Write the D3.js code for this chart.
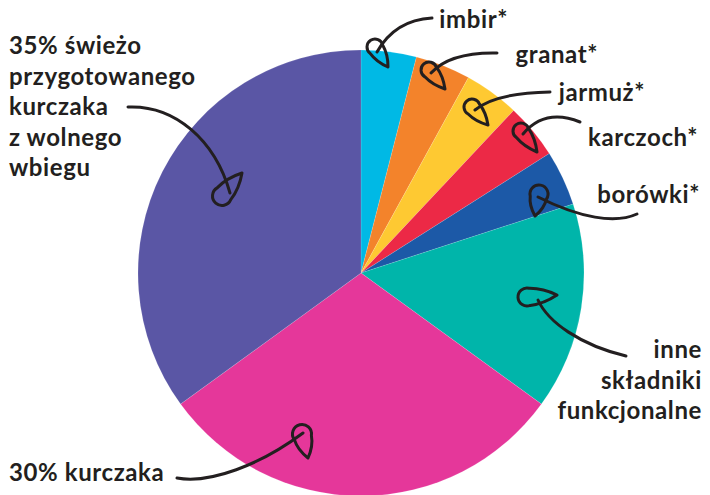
<!DOCTYPE html>
<html><head><meta charset="utf-8">
<script src="https://cdn.jsdelivr.net/npm/d3@7"></script>
<style>
html,body{margin:0;padding:0;background:#fff;}
svg{display:block;}
text{font-family:Lato,"Noto Sans",sans-serif;font-weight:700;fill:#231f20;}
</style></head>
<body>
<svg id="chart" width="710" height="495"></svg>
<script>
// ---- data ----
const categories = ["imbir*","granat*","jarmuż*","karczoch*","borówki*","inne składniki funkcjonalne","30% kurczaka","35% świeżo przygotowanego kurczaka z wolnego wbiegu"];
const values = [4,4,4,4,4,15,30,35];
const colors = ["#00b9e5","#f3832b","#fec932","#ec2946","#1c59a7","#00b5aa","#e5379a","#5a56a5"];
const labelLines = [["imbir*"],["granat*"],["jarmuż*"],["karczoch*"],["borówki*"],["inne","składniki","funkcjonalne"],["30% kurczaka"],["35% świeżo","przygotowanego","kurczaka","z wolnego","wbiegu"]];

// ---- layout (annotation placement) ----
const cx = 361, cy = 273, R = 223;
const labelPos = [
  {x:508,y:28,anchor:"end"},
  {x:598,y:63,anchor:"end"},
  {x:645,y:101,anchor:"end"},
  {x:698,y:146,anchor:"end"},
  {x:700,y:203,anchor:"end"},
  {x:702,y:358,anchor:"end"},
  {x:9,y:481,anchor:"start"},
  {x:9,y:54,anchor:"start"}
];
const lineH = 30.5;
const arrows = [
  {d:"M432,18 Q395,20 377,52", c:[375,47], r:8, t:[388,67]},
  {d:"M497,53 Q450,52 431,73", c:[429,70], r:8, t:[445,89]},
  {d:"M550,92 Q495,93 475,110", c:[472,107], r:8, t:[488,125]},
  {d:"M580,122 Q545,108 523,134", c:[521,131], r:8, t:[537,152]},
  {d:"M637,214 C615,224 580,218 538,197", c:[539,194], r:9, t:[535,216]},
  {d:"M538,300 C548,322 580,345 626,356", c:[527,297], r:9, t:[557,295]},
  {d:"M177,478 C210,484 260,465 303,433", c:[302,434], r:9.5, t:[308,458]},
  {d:"M128,107 C175,105 215,140 230,193", c:[222,196], r:9.5, t:[242,173]}
];

const svg = d3.select("#chart");
const pie = d3.pie().sort(null).value(d => d).startAngle(0).endAngle(2*Math.PI);
const arc = d3.arc().innerRadius(0).outerRadius(R);

const g = svg.append("g").attr("transform", `translate(${cx},${cy})`);
g.selectAll("path").data(pie(values)).join("path")
  .attr("d", arc)
  .attr("fill", (d,i) => colors[i])
  .attr("stroke", "#ffffff").attr("stroke-opacity",0.25).attr("stroke-width", 0.5);

// labels
const lg = svg.append("g");
labelLines.forEach((lines,i) => {
  const p = labelPos[i];
  const t = lg.append("text").attr("x",p.x).attr("y",p.y).attr("text-anchor",p.anchor)
    .attr("font-size",24).attr("letter-spacing",0.6);
  lines.forEach((ln,j) => t.append("tspan").attr("x",p.x).attr("y",p.y + j*lineH).text(ln));
});

// arrows: hand-drawn teardrop heads with slightly bulging sides
function teardrop(c, r, t){
  const dx = t[0]-c[0], dy = t[1]-c[1];
  const dist = Math.hypot(dx,dy);
  const th = Math.atan2(dy,dx);
  const a = Math.acos(r/dist);
  const p1 = [c[0]+r*Math.cos(th+a), c[1]+r*Math.sin(th+a)];
  const p2 = [c[0]+r*Math.cos(th-a), c[1]+r*Math.sin(th-a)];
  const bulge = r*0.4;
  function ctrl(p){
    const mx = (p[0]+t[0])/2, my = (p[1]+t[1])/2;
    // push control point away from the axis c->t
    const ux = dx/dist, uy = dy/dist;
    const rx = mx - c[0], ry = my - c[1];
    const along = rx*ux + ry*uy;
    let px = rx - along*ux, py = ry - along*uy;
    const pl = Math.hypot(px,py) || 1;
    return [mx + px/pl*bulge, my + py/pl*bulge];
  }
  const c1 = ctrl(p1), c2 = ctrl(p2);
  const path = d3.path();
  path.moveTo(t[0],t[1]);
  path.quadraticCurveTo(c1[0],c1[1],p1[0],p1[1]);
  path.arc(c[0],c[1],r,th+a,th-a+2*Math.PI,false);
  path.quadraticCurveTo(c2[0],c2[1],t[0],t[1]);
  return path.toString();
}
const ag = svg.append("g").attr("fill","none").attr("stroke","#231f20")
  .attr("stroke-width",3).attr("stroke-linecap","round").attr("stroke-linejoin","round");
arrows.forEach(a => {
  ag.append("path").attr("d", a.d);
  ag.append("path").attr("d", teardrop(a.c, a.r, a.t));
});
</script>
</body></html>
